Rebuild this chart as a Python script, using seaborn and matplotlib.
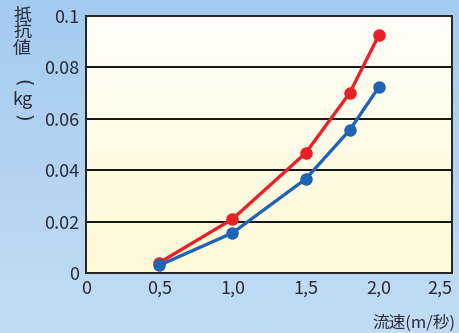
import numpy as np
import pandas as pd
import matplotlib
matplotlib.use("Agg")
import matplotlib.pyplot as plt
import seaborn as sns

# values
speed = [0.5, 1.0, 1.5, 1.8, 2.0]
red_vals = [0.004, 0.021, 0.0467, 0.070, 0.0926]
blue_vals = [0.003, 0.0156, 0.0366, 0.0556, 0.0724]
x_ticks = [0, 0.5, 1.0, 1.5, 2.0, 2.5]
x_labels = ["0", "0,5", "1,0", "1,5", "2,0", "2,5"]
y_ticks = [0, 0.02, 0.04, 0.06, 0.08, 0.1]
y_labels = ["0", "0.02", "0.04", "0.06", "0.08", "0.1"]

df = pd.DataFrame({
    "speed": speed * 2,
    "value": red_vals + blue_vals,
    "series": ["red"] * len(speed) + ["blue"] * len(speed),
})

sns.set_style("white")
plt.rcParams["font.family"] = ["Noto Sans CJK JP", "DejaVu Sans"]

fig = plt.figure(figsize=(4.6, 3.33), dpi=100)

# light blue gradient behind everything
bg = fig.add_axes([0, 0, 1, 1], zorder=-1)
grad = np.linspace(0, 1, 256).reshape(-1, 1)
bg.imshow(grad, aspect="auto", extent=[0, 1, 0, 1],
          cmap=matplotlib.colors.LinearSegmentedColormap.from_list("b", ["#a4cbef", "#c2dcf4"]))
bg.axis("off")

ax = fig.add_axes([0.187, 0.180, 0.796, 0.772])
# plot area: pale yellow at bottom, almost white at top
ax.imshow(grad, aspect="auto", extent=[0, 2.5, 0, 0.1], zorder=0, origin="lower",
          cmap=matplotlib.colors.LinearSegmentedColormap.from_list("y", ["#fef9d6", "#fffff8"]))

sns.lineplot(data=df, x="speed", y="value", hue="series",
             palette={"red": "#e8202a", "blue": "#1f64b4"},
             marker="o", markersize=9, markeredgewidth=0, linewidth=2.4,
             legend=False, ax=ax, zorder=3)

for y in y_ticks[1:-1]:
    ax.axhline(y, color="#111111", linewidth=1.4, zorder=1)

ax.set_xlim(0, 2.5)
ax.set_ylim(0, 0.1)
ax.set_xticks(x_ticks)
ax.set_xticklabels(x_labels)
ax.set_yticks(y_ticks)
ax.set_yticklabels(y_labels)
ax.tick_params(axis="both", length=0, labelsize=13, labelcolor="#2a2a3a", pad=5)
ax.get_xticklabels()[-1].set_ha("right")
ax.set_xlabel("")
ax.set_ylabel("")
for s in ax.spines.values():
    s.set_color("#222222")
    s.set_linewidth(1.4)

# vertical y-axis title: 抵抗値（kg）
fig.text(0.048, 0.98, "抵\n抗\n値", ha="center", va="top",
         fontsize=13, linespacing=0.9, color="#2a2a3a")
fig.text(0.048, 0.752, "(", ha="center", va="center", rotation=-90,
         fontsize=14, family="DejaVu Sans", color="#2a2a3a")
fig.text(0.048, 0.700, "kg", ha="center", va="center",
         fontsize=13, color="#2a2a3a")
fig.text(0.048, 0.645, ")", ha="center", va="center", rotation=-90,
         fontsize=14, family="DejaVu Sans", color="#2a2a3a")
fig.text(0.99, 0.005, "流速(m/秒)", ha="right", va="bottom",
         fontsize=12, color="#2a2a3a")

fig.savefig("out.png", dpi=100)
